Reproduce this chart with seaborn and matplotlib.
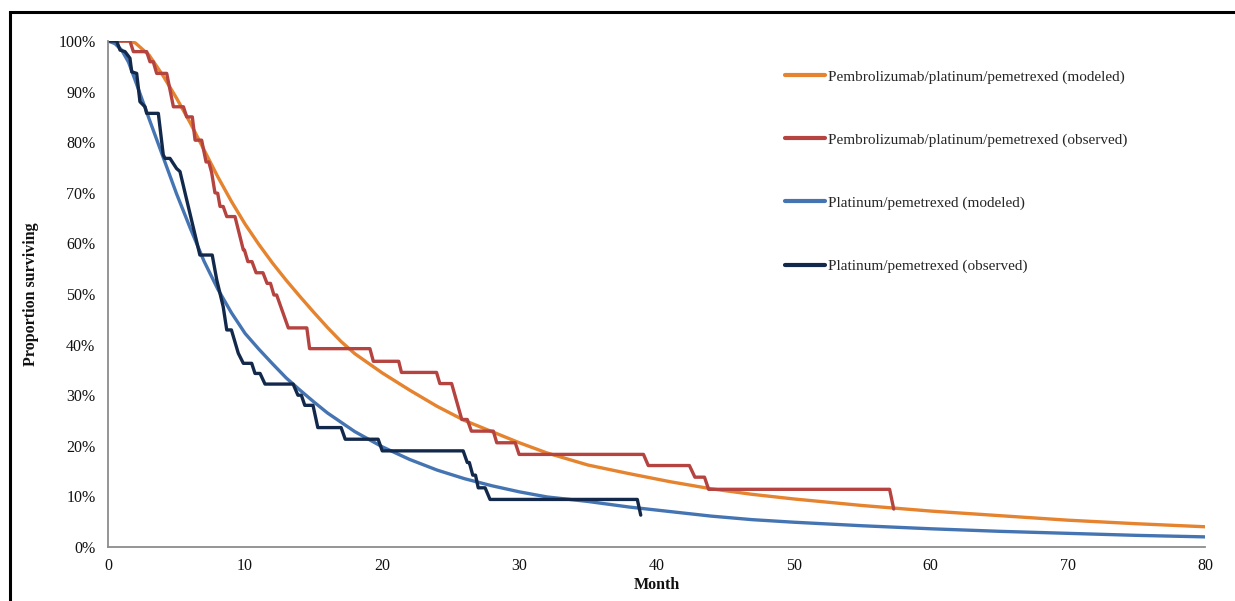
import numpy as np
import pandas as pd
import matplotlib
matplotlib.use("Agg")
import matplotlib.pyplot as plt
import seaborn as sns
from matplotlib.lines import Line2D
from matplotlib.ticker import PercentFormatter

# ---------------- data ----------------
labels = [
    "Pembrolizumab/platinum/pemetrexed (modeled)",
    "Pembrolizumab/platinum/pemetrexed (observed)",
    "Platinum/pemetrexed (modeled)",
    "Platinum/pemetrexed (observed)",
]

pem_mod_t = [0, 1, 1.6, 2, 3, 4, 5, 6, 7, 8, 9, 10, 11, 12, 13, 14, 15, 16, 17, 18,
             20, 22, 24, 26, 28, 30, 32, 35, 38, 41, 44, 47, 50, 55, 60, 65, 70, 75, 80]
pem_mod_s = [100, 100, 100, 99.6, 97.2, 93.2, 88.7, 83.8, 78.5, 73.2, 68.3, 63.8, 59.8,
             56.1, 52.7, 49.5, 46.4, 43.4, 40.6, 38.2, 34.4, 31.0, 27.8, 25.0, 22.8, 20.6,
             18.6, 16.2, 14.5, 12.9, 11.5, 10.4, 9.5, 8.2, 7.1, 6.2, 5.3, 4.6, 4.0]

pem_obs_t = [0, 1.6, 1.85, 2.82, 3.06, 3.3, 3.55, 4.28, 4.77, 5.5, 5.74, 6.15, 6.35, 6.83,
             7.15, 7.35, 7.56, 7.8, 8.0, 8.17, 8.4, 8.66, 9.26, 9.87, 9.95, 10.2, 10.5,
             10.8, 11.3, 11.6, 11.85, 12.1, 12.3, 13.15, 14.5, 14.7, 19.1, 19.35, 21.2,
             21.4, 23.96, 24.2, 25.06, 25.8, 26.2, 26.5, 28.1, 28.35, 29.7, 29.98, 39.05,
             39.4, 42.4, 42.8, 43.5, 43.8, 57.0, 57.3]
pem_obs_s = [100, 100, 97.9, 97.9, 95.9, 95.9, 93.6, 93.6, 87.0, 87.0, 85.0, 85.0, 80.4,
             80.4, 76.1, 76.1, 74.0, 70.0, 69.9, 67.3, 67.3, 65.3, 65.3, 58.7, 58.7, 56.4,
             56.4, 54.2, 54.2, 52.1, 52.1, 49.8, 49.8, 43.3, 43.3, 39.2, 39.2, 36.7, 36.7,
             34.5, 34.5, 32.3, 32.3, 25.2, 25.2, 22.9, 22.9, 20.6, 20.6, 18.3, 18.3, 16.1,
             16.1, 13.8, 13.8, 11.4, 11.4, 7.5]

plat_mod_t = [0, 0.5, 1, 1.5, 2, 3, 4, 5, 6, 7, 8, 9, 10, 11, 12, 13, 14, 15, 16, 18, 20,
              22, 24, 26, 28, 30, 32, 35, 38, 41, 44, 47, 50, 55, 60, 65, 70, 75, 80]
plat_mod_s = [100, 99.5, 98.2, 95.8, 92.1, 84.6, 77.2, 69.8, 63.0, 56.5, 51.0, 46.3, 42.2,
              39.1, 36.2, 33.4, 31.0, 28.7, 26.5, 22.8, 19.8, 17.3, 15.2, 13.5, 12.1, 10.9,
              9.9, 9.0, 7.9, 7.0, 6.1, 5.4, 4.9, 4.2, 3.6, 3.1, 2.7, 2.3, 2.0]

plat_obs_t = [0, 0.63, 0.88, 1.24, 1.6, 1.73, 2.09, 2.33, 2.7, 2.82, 3.67, 4.03, 4.16, 4.52,
              5.0, 5.25, 5.6, 6.7, 7.6, 7.93, 8.4, 8.66, 9.0, 9.5, 9.87, 10.48, 10.72,
              11.09, 11.45, 13.5, 13.85, 14.1, 14.35, 14.95, 15.3, 17.0, 17.3, 19.7, 20.0,
              25.9, 26.2, 26.35, 26.6, 26.8, 27.0, 27.5, 27.86, 38.6, 38.85]
plat_obs_s = [100, 100, 98.2, 97.9, 96.6, 93.9, 93.6, 88.0, 87.0, 85.7, 85.7, 77.5, 76.8,
              76.8, 74.8, 74.2, 70.2, 57.7, 57.7, 52.8, 47.5, 42.9, 42.9, 38.3, 36.3, 36.3,
              34.3, 34.3, 32.2, 32.2, 30.0, 30.0, 28.0, 28.0, 23.6, 23.6, 21.3, 21.3, 19.0,
              19.0, 16.7, 16.7, 14.2, 14.2, 11.7, 11.7, 9.4, 9.4, 6.3]

colors = ["#E5832F", "#B5433F", "#4574B3", "#13294B"]

series = [
    (pem_mod_t, pem_mod_s),
    (pem_obs_t, pem_obs_s),
    (plat_mod_t, plat_mod_s),
    (plat_obs_t, plat_obs_s),
]

# ---------------- figure ----------------
sns.set_theme(style="white")
plt.rcParams["font.family"] = ["Liberation Serif", "DejaVu Serif"]

W, H = 1235, 601
fig = plt.figure(figsize=(W / 100, H / 100), dpi=100)
ax = fig.add_axes([108 / W, (H - 547) / H, (1205 - 108) / W, (547 - 41) / H])

for (t, s), lab, c in zip(series, labels, colors):
    df = pd.DataFrame({"Month": t, "Survival": np.array(s) / 100.0})
    sns.lineplot(data=df, x="Month", y="Survival", ax=ax, color=c, lw=2.4,
                 sort=False, estimator=None, label=lab, solid_joinstyle="round")

ax.set_xlim(0, 80)
ax.set_ylim(0, 1.0)
ax.set_xticks(np.arange(0, 81, 10))
ax.set_yticks(np.arange(0, 1.01, 0.1))
ax.yaxis.set_major_formatter(PercentFormatter(1.0, decimals=0))

gray = "#8C8C8C"
for sp in ["top", "right"]:
    ax.spines[sp].set_visible(False)
for sp in ["left", "bottom"]:
    ax.spines[sp].set_color(gray)
    ax.spines[sp].set_linewidth(1.3)
ax.tick_params(axis="both", direction="out", length=5, width=1.2, color=gray,
               labelsize=11.5, labelcolor="#111111", pad=4)
ax.tick_params(axis="x", pad=3)

ax.set_xlabel("Month", fontsize=11.5, fontweight="bold", color="#111111")
ax.set_ylabel("Proportion surviving", fontsize=11.5, fontweight="bold", color="#111111")
ax.xaxis.set_label_coords(0.5, -0.059)
ax.yaxis.set_label_coords(-0.063, 0.5)

leg = ax.legend(loc="upper left", bbox_to_anchor=(785 / W, 1 - 70 / H),
                bbox_transform=fig.transFigure, frameon=False, fontsize=11,
                handlelength=2.6, handletextpad=0.2, labelspacing=3.22,
                borderaxespad=0, borderpad=0)
for h in leg.get_lines():
    h.set_linewidth(3)

# outer frame of the picture
fig.add_artist(Line2D([9.5 / W, 9.5 / W], [0, 1 - 11.5 / H], transform=fig.transFigure,
                      color="black", lw=2.2))
fig.add_artist(Line2D([9.5 / W, 1], [1 - 11.5 / H, 1 - 11.5 / H], transform=fig.transFigure,
                      color="black", lw=2.2, solid_capstyle="projecting"))

fig.savefig("out.png", dpi=100)
